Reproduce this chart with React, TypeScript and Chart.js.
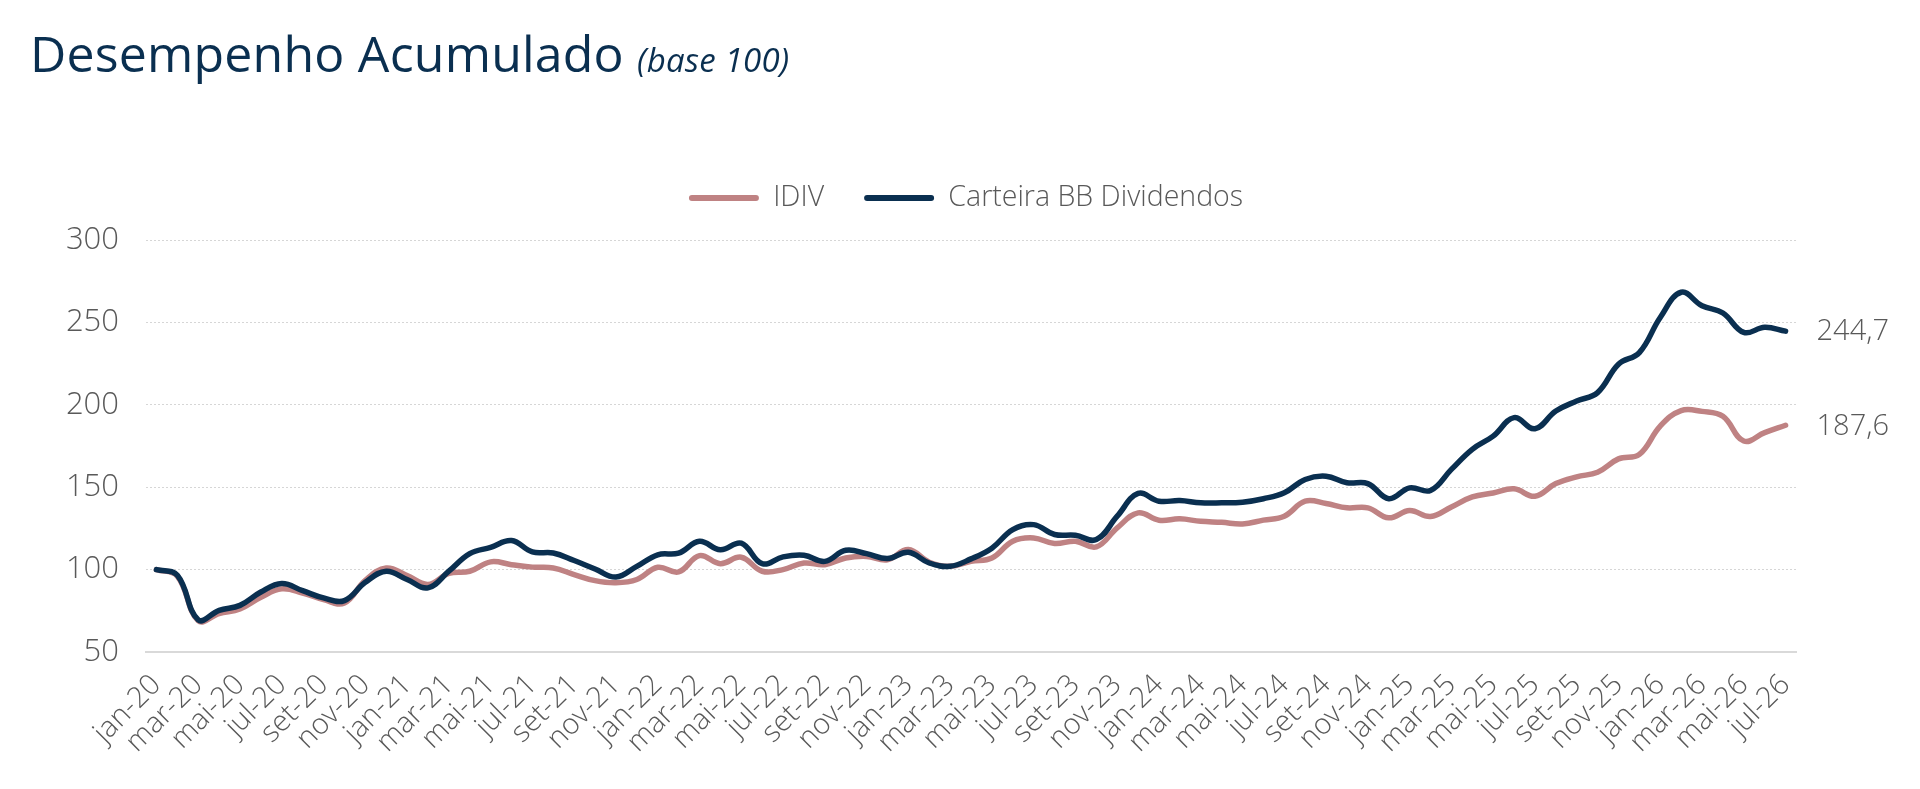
import React, { useEffect, useRef } from "react";
import { Chart, registerables } from "chart.js";

Chart.register(...registerables);

const MONTHS = ["jan", "fev", "mar", "abr", "mai", "jun", "jul", "ago", "set", "out", "nov", "dez"];
const YEARS = ["20", "21", "22", "23", "24", "25", "26"];
const LAST_MONTH_2026 = 7; // jan..jul 2026

const CATEGORIES: string[] = [];
YEARS.forEach((y, yi) => {
  const n = yi === YEARS.length - 1 ? LAST_MONTH_2026 : 12;
  for (let m = 0; m < n; m++) CATEGORIES.push(`${MONTHS[m]}-${y}`);
});

const SERIES_NAMES = ["IDIV", "Carteira BB Dividendos"];

const IDIV = [
  100, 96, 69, 73.3, 76.1, 83.2, 88.3, 85.8, 81.8, 79.7, 93.5, 101,
  96.4, 91, 97.7, 99, 104.7, 103, 101.5, 101, 97, 93.3, 92, 94,
  101.4, 98.6, 108.5, 103.6, 107.5, 99, 100, 104, 103, 107, 108, 106,
  112.2, 104.5, 102, 105, 107, 117.2, 119.2, 115.8, 117.2, 113.8, 125.3, 134.4,
  130, 130.8, 129.3, 128.7, 127.7, 130, 132.4, 141.5, 140.1, 137.5, 137.5, 131.4,
  135.8, 132.2, 138, 144.1, 146.5, 149, 144.5, 152.2, 156.3, 159.1, 167.2, 169.9,
  187.1, 196.5, 196, 193, 178, 183.1, 187.6,
];

const CARTEIRA = [
  100, 96.6, 69.5, 75.3, 78.3, 86.4, 91.5, 87.2, 82.8, 81.2, 92.3, 99,
  94, 88.9, 99, 109.7, 113.5, 117.6, 110.7, 110.1, 105.5, 100.4, 95.5, 102,
  109, 110, 117.2, 112, 116, 103.6, 107.7, 108.7, 105, 111.7, 109.7, 106.7,
  110.5, 104, 102, 106.5, 113, 124.3, 127.3, 121.3, 120.8, 118.2, 132.4, 146.2,
  141.5, 141.9, 140.5, 140.5, 140.9, 143, 146.6, 154.7, 156.7, 152.7, 152.2, 143,
  149.6, 148, 160.8, 173, 181, 192.2, 185.5, 196.2, 202.3, 207.4, 224.6, 231.7,
  253, 268.3, 260.1, 255.7, 243.9, 247, 244.7,
];

const Y_MIN = 50;
const Y_MAX = 300;
const Y_STEP = 50;

const COLOR_IDIV = "#bf8283";
const COLOR_CARTEIRA = "#0a2f50";
const TEXT_GRAY = "#595959";
const FONT = "'Open Sans', 'Noto Sans', sans-serif";

const fmt = (v: number) => v.toFixed(1).replace(".", ",");

const endLabels = {
  id: "endLabels",
  afterDatasetsDraw(chart: any) {
    const ctx = chart.ctx;
    chart.data.datasets.forEach((ds: any, i: number) => {
      const meta = chart.getDatasetMeta(i);
      const pt = meta.data[meta.data.length - 1];
      if (!pt) return;
      const v = ds.data[ds.data.length - 1];
      ctx.save();
      ctx.font = `300 29px ${FONT}`;
      ctx.fillStyle = TEXT_GRAY;
      ctx.textAlign = "left";
      ctx.textBaseline = "middle";
      ctx.fillText(fmt(v), pt.x + 31, pt.y + 1);
      ctx.restore();
    });
  },
};

// legend: fixed extra height below it, and centred like the reference
const LEGEND_EXTRA_HEIGHT = 17.75;
const LEGEND_SHIFT_X = 48;
const legendTweak = {
  id: "legendTweak",
  beforeInit(chart: any) {
    const legend = chart.legend;
    if (!legend) return;
    const orig = legend.fit;
    legend.fit = function () {
      orig.call(this);
      this.height += LEGEND_EXTRA_HEIGHT;
    };
  },
  afterLayout(chart: any) {
    const legend = chart.legend;
    if (!legend) return;
    legend.left += LEGEND_SHIFT_X;
    legend.right += LEGEND_SHIFT_X;
  },
};

export default function App() {
  const canvasRef = useRef<HTMLCanvasElement | null>(null);

  useEffect(() => {
    if (!canvasRef.current) return;
    const chart = new Chart(canvasRef.current, {
      type: "line",
      data: {
        labels: CATEGORIES,
        datasets: [
          {
            label: SERIES_NAMES[0],
            data: IDIV,
            borderColor: COLOR_IDIV,
            backgroundColor: COLOR_IDIV,
            borderWidth: 5.5,
            pointRadius: 0,
            tension: 0.4,
            borderCapStyle: "round",
            borderJoinStyle: "round",
            fill: false,
            order: 1,
          },
          {
            label: SERIES_NAMES[1],
            data: CARTEIRA,
            borderColor: COLOR_CARTEIRA,
            backgroundColor: COLOR_CARTEIRA,
            borderWidth: 5.5,
            pointRadius: 0,
            tension: 0.4,
            borderCapStyle: "round",
            borderJoinStyle: "round",
            fill: false,
            order: 0,
          },
        ],
      },
      options: {
        responsive: false,
        animation: false,
        devicePixelRatio: 1,
        layout: { padding: { left: 40, right: 124, top: 143.75, bottom: 0 } },
        plugins: {
          tooltip: { enabled: false },
          title: { display: false },
          legend: {
            display: true,
            position: "top",
            labels: {
              boxWidth: 70,
              boxHeight: 6,
              padding: 40,
              color: TEXT_GRAY,
              useBorderRadius: true,
              borderRadius: 3,
              font: { family: FONT, size: 28.5, weight: 300 as any },
              generateLabels: (c: any) => {
                const items = (Chart.defaults.plugins.legend.labels as any).generateLabels(c);
                return items
                  .sort((a: any, b: any) => a.datasetIndex - b.datasetIndex)
                  .map((it: any) => ({ ...it, lineWidth: 0, strokeStyle: "rgba(0,0,0,0)", borderRadius: 3 }));
              },
            },
          },
        },
        scales: {
          x: {
            type: "category",
            offset: true,
            grid: { display: false, drawTicks: false },
            border: { display: true, color: "#d9d9d9", width: 2 },
            ticks: {
              autoSkip: false,
              maxRotation: 45,
              minRotation: 45,
              padding: 16,
              color: TEXT_GRAY,
              font: { family: FONT, size: 29, weight: 300 as any },
              callback: (_v: any, index: number) => (index % 2 === 0 ? CATEGORIES[index] : ""),
            },
            afterFit: (scale: any) => {
              scale.height = 137;
            },
          },
          y: {
            min: Y_MIN,
            max: Y_MAX,
            grid: { color: "#d6d6d6", lineWidth: 1, drawTicks: false },
            border: { display: false, dash: [2, 2] },
            ticks: {
              stepSize: Y_STEP,
              padding: 27,
              color: TEXT_GRAY,
              font: { family: FONT, size: 31, weight: 300 as any },
            },
            afterFit: (scale: any) => {
              scale.width = 106;
            },
          },
        },
      },
      plugins: [endLabels, legendTweak],
    });
    return () => chart.destroy();
  }, []);

  return (
    <div
      style={{
        position: "fixed",
        left: 0,
        top: 0,
        width: 1920,
        height: 789,
        background: "#ffffff",
        overflow: "hidden",
      }}
    >
      <canvas
        ref={canvasRef}
        width={1920}
        height={789}
        style={{ position: "absolute", left: 0, top: 0, width: 1920, height: 789 }}
      />
      <div
        style={{
          position: "absolute",
          left: 30,
          top: 28,
          fontFamily: FONT,
          fontSize: 50,
          lineHeight: 1,
          color: COLOR_CARTEIRA,
          whiteSpace: "nowrap",
          letterSpacing: 0.2,
        }}
      >
        Desempenho Acumulado{" "}
        <span style={{ fontStyle: "italic", fontSize: 33 }}>(base 100)</span>
      </div>
    </div>
  );
}
